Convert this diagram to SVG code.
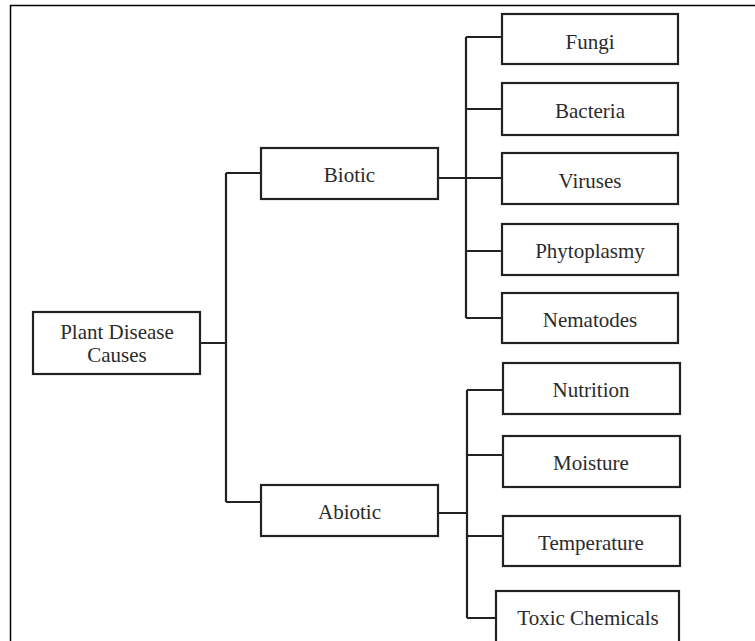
<svg xmlns="http://www.w3.org/2000/svg" width="755" height="641" viewBox="0 0 755 641">
<style>
.box{fill:#fff;stroke:#222;stroke-width:2.2}
.lbl{font-family:"Liberation Serif","Times New Roman",serif;font-size:21px;fill:#2b2b2b;text-anchor:middle}
.con{fill:none;stroke:#222;stroke-width:2.2}
</style>
<rect x="0" y="0" width="755" height="641" fill="#fff"/>
<path d="M10.5 641 V5.5 H755" fill="none" stroke="#000" stroke-width="1.5"/>
<g id="connectors" class="con">
<path d="M200 343 H226 M226 173 V502 M226 173 H261 M226 502 H261"/>
<path d="M438 178 H502 M466 37 V318 M466 37 H502 M466 109 H502 M466 251 H502 M466 318 H502"/>
<path d="M438 513 H467 M467 390 V618 M467 390 H503 M467 455 H503 M467 536 H503 M467 618 H496"/>
</g>
<g id="root"><rect class="box" x="33" y="312" width="167" height="62"/><text class="lbl" x="117" y="339">Plant Disease</text><text class="lbl" x="117" y="362">Causes</text></g>
<g id="biotic"><rect class="box" x="261" y="148" width="177" height="51"/><text class="lbl" x="349.5" y="182">Biotic</text></g>
<g id="abiotic"><rect class="box" x="261" y="485" width="177" height="51"/><text class="lbl" x="349.5" y="519">Abiotic</text></g>
<g id="fungi"><rect class="box" x="502" y="14" width="176" height="50"/><text class="lbl" x="590" y="49">Fungi</text></g>
<g id="bacteria"><rect class="box" x="502" y="83" width="176" height="52"/><text class="lbl" x="590" y="118">Bacteria</text></g>
<g id="viruses"><rect class="box" x="502" y="153" width="176" height="51"/><text class="lbl" x="590" y="188">Viruses</text></g>
<g id="phytoplasmy"><rect class="box" x="502" y="224" width="176" height="51"/><text class="lbl" x="590" y="258">Phytoplasmy</text></g>
<g id="nematodes"><rect class="box" x="502" y="293" width="176" height="50"/><text class="lbl" x="590" y="327">Nematodes</text></g>
<g id="nutrition"><rect class="box" x="503" y="363" width="177" height="51"/><text class="lbl" x="591" y="397">Nutrition</text></g>
<g id="moisture"><rect class="box" x="503" y="436" width="177" height="51"/><text class="lbl" x="591" y="470">Moisture</text></g>
<g id="temperature"><rect class="box" x="503" y="516" width="177" height="50"/><text class="lbl" x="591" y="550">Temperature</text></g>
<g id="toxic"><rect class="box" x="496" y="591" width="183" height="60"/><text class="lbl" x="588" y="625">Toxic Chemicals</text></g>
</svg>
